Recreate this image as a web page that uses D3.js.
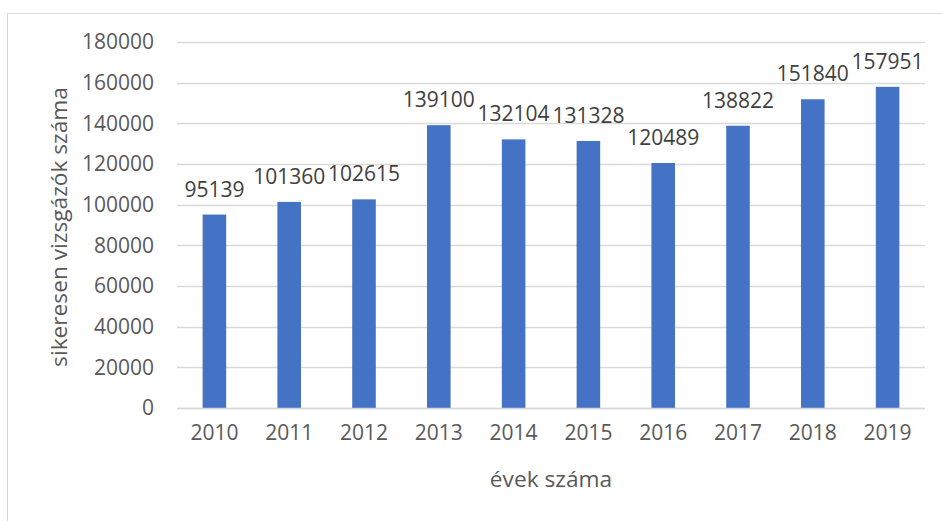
<!DOCTYPE html>
<html><head><meta charset="utf-8">
<script src="https://cdn.jsdelivr.net/npm/d3@7"></script>
<style>
html,body{margin:0;padding:0;background:#fff;}
svg{display:block;font-family:"Open Sans",sans-serif;}
</style></head>
<body>
<svg id="c" width="942" height="521"></svg>
<script>
const years = ["2010","2011","2012","2013","2014","2015","2016","2017","2018","2019"];
const values = [95139,101360,102615,139100,132104,131328,120489,138822,151840,157951];
const yTicks = [0,20000,40000,60000,80000,100000,120000,140000,160000,180000];
const yTitle = "sikeresen vizsgázók száma";
const xTitle = "évek száma";

const svg = d3.select("#c");
const W = 942, H = 521;
const m = {left:177, right:925, top:42, bottom:408};
const textColor = "#595959", gridColor = "#d9d9d9", barColor = "#4472C4";
const fs = 21, tfs = 22.7;

svg.append("rect").attr("x",7.5).attr("y",13.5).attr("width",W).attr("height",H)
  .attr("fill","none").attr("stroke",gridColor).attr("stroke-width",1);

const x = d3.scaleBand().domain(years).range([m.left,m.right]).paddingInner(0.685).paddingOuter(0.3425);
const y = d3.scaleLinear().domain([0,180000]).range([m.bottom,m.top]);

// gridlines
svg.append("g").selectAll("line").data(yTicks).join("line")
  .attr("x1",m.left).attr("x2",m.right)
  .attr("y1",d=>Math.round(y(d))+0.5).attr("y2",d=>Math.round(y(d))+0.5)
  .attr("stroke",gridColor).attr("stroke-width",1.3);

// y axis labels
const ya = svg.append("g").attr("transform",`translate(${m.left},0)`)
  .call(d3.axisLeft(y).tickValues(yTicks).tickSize(0).tickPadding(23).tickFormat(d3.format("d")));
ya.select(".domain").remove();
ya.selectAll("text").attr("fill",textColor).style("font-size",fs+"px").style("font-family","'Open Sans',sans-serif");

// bars
svg.append("g").selectAll("rect").data(values).join("rect")
  .attr("x",(d,i)=>x(years[i])).attr("width",x.bandwidth())
  .attr("y",d=>y(d)).attr("height",d=>y(0)-y(d)).attr("fill",barColor);

// value labels
svg.append("g").selectAll("text").data(values).join("text")
  .attr("x",(d,i)=>x(years[i])+x.bandwidth()/2).attr("y",d=>y(d)-18)
  .attr("text-anchor","middle").attr("fill","#404040").style("font-size",fs+"px")
  .text(d=>d);

// x axis
const xa = svg.append("g").attr("transform",`translate(0,${m.bottom})`)
  .call(d3.axisBottom(x).tickSize(0).tickPadding(17));
xa.select(".domain").remove();
xa.selectAll("text").attr("fill",textColor).style("font-size",fs+"px").style("font-family","'Open Sans',sans-serif");

svg.append("line").attr("x1",m.left).attr("x2",m.right).attr("y1",m.bottom+0.5).attr("y2",m.bottom+0.5)
  .attr("stroke",gridColor).attr("stroke-width",1.5);

// titles
svg.append("text").attr("x",(m.left+m.right)/2).attr("y",487).attr("text-anchor","middle")
  .attr("fill",textColor).style("font-size",tfs+"px").text(xTitle);
svg.append("text").attr("transform",`translate(67,${(m.top+m.bottom)/2+2}) rotate(-90)`)
  .attr("text-anchor","middle").attr("fill",textColor).style("font-size",tfs+"px").text(yTitle);
</script>
</body></html>
